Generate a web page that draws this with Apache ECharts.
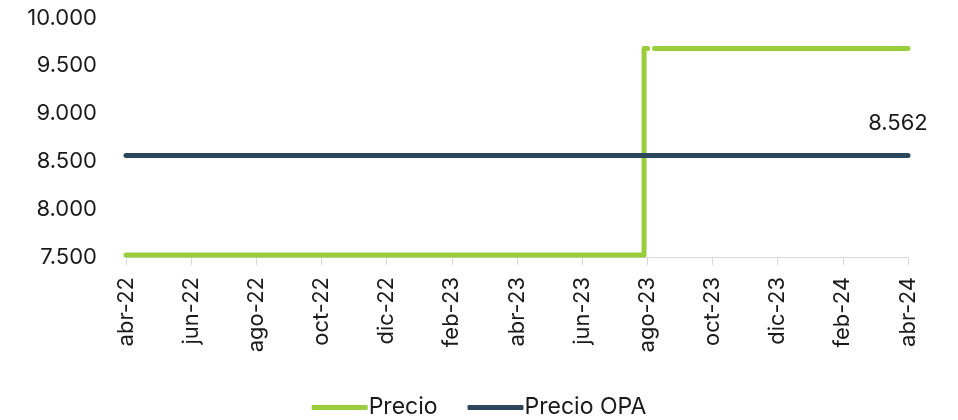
<!DOCTYPE html>
<html>
<head>
<meta charset="utf-8">
<script src="https://cdn.jsdelivr.net/npm/echarts@6/dist/echarts.min.js"></script>
<style>html,body{margin:0;padding:0;background:#fff}#c{width:958px;height:420px}</style>
</head>
<body>
<div id="c"></div>
<script>
// Month labels (index 0 = abr-22 ... 24 = abr-24)
const monthLabels = ['abr-22','may-22','jun-22','jul-22','ago-22','sep-22','oct-22','nov-22','dic-22','ene-23','feb-23','mar-23','abr-23','may-23','jun-23','jul-23','ago-23','sep-23','oct-23','nov-23','dic-23','ene-24','feb-24','mar-24','abr-24'];
// Precio: month position (fractional) and value (null = missing day)
const precioX = [0, 15.9, 15.9, 16.01, 16.1, 16.22, 24];
const precioY = [7520, 7520, 9680, 9680, null, 9680, 9680];
// Precio OPA
const opaX = [0, 24];
const opaY = [8562, 8562];

const fmt = v => String(Math.round(v)).replace(/\B(?=(\d{3})+(?!\d))/g, '.');
const FONT = 'Inter';

const chart = echarts.init(document.getElementById('c'));
chart.setOption({
  animation: false,
  textStyle: { fontFamily: FONT },
  grid: { left: 126, right: 50, top: 18, bottom: 163 },
  xAxis: {
    type: 'value', min: 0, max: 24, interval: 2,
    axisLine: { show: true, lineStyle: { color: '#d9d9d9', width: 1 } },
    axisTick: { show: true, length: 8, lineStyle: { color: '#d9d9d9' } },
    splitLine: { show: false },
    axisLabel: {
      rotate: 90, margin: 20, fontSize: 22, color: '#1a1a1a', fontFamily: FONT,
      formatter: v => monthLabels[v]
    }
  },
  yAxis: {
    type: 'value', min: 7500, max: 10000, interval: 500,
    axisLine: { show: false }, axisTick: { show: false }, splitLine: { show: false },
    axisLabel: { fontSize: 22, color: '#1a1a1a', margin: 29, fontFamily: FONT, formatter: fmt }
  },
  legend: {
    bottom: -4, left: 'center', itemWidth: 56, itemHeight: 5, itemGap: 30,
    icon: 'roundRect',
    textStyle: { fontSize: 23, color: '#1a1a1a', fontFamily: FONT, padding: [0,0,0,-4] },
    data: ['Precio', 'Precio OPA']
  },
  series: [
    {
      name: 'Precio', type: 'line', showSymbol: false, connectNulls: false,
      lineStyle: { width: 5, color: '#9acd3c', cap: 'round', join: 'round' },
      itemStyle: { color: '#9acd3c' },
      data: precioX.map((x, i) => [x, precioY[i] === null ? '-' : precioY[i]])
    },
    {
      name: 'Precio OPA', type: 'line', showSymbol: false,
      lineStyle: { width: 5, color: '#2c475c', cap: 'round' },
      itemStyle: { color: '#2c475c' },
      endLabel: {
        show: true, fontSize: 22, color: '#1a1a1a', fontFamily: FONT,
        align: 'center', verticalAlign: 'middle', distance: 0, offset: [-10, -32],
        formatter: p => fmt(p.value[1])
      },
      data: opaX.map((x, i) => [x, opaY[i]])
    }
  ]
});
</script>
</body>
</html>
